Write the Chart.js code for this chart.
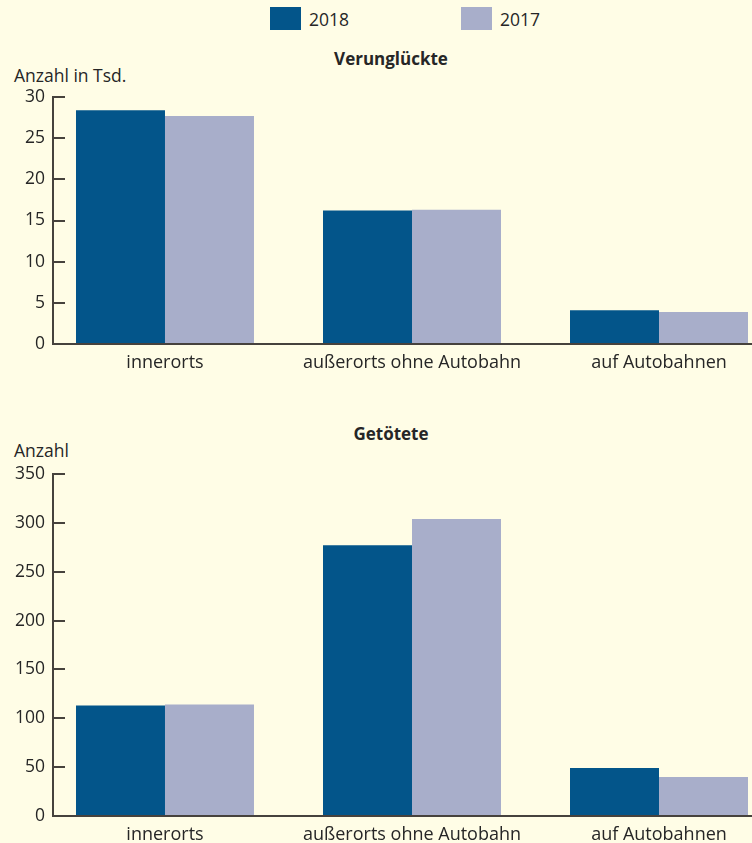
<!DOCTYPE html>
<html lang="de">
<head>
<meta charset="utf-8">
<title>Verunglückte und Getötete nach Ortslage</title>
<script src="https://cdn.jsdelivr.net/npm/chart.js@4.4.1/dist/chart.umd.min.js"></script>
<style>
  html, body { margin: 0; padding: 0; }
  body {
    width: 752px; height: 843px; overflow: hidden; position: relative;
    background: #FFFDE6; font-family: "Open Sans", sans-serif; color: #262626;
  }
  .txt { position: absolute; line-height: 1; white-space: nowrap; }
  .box { position: absolute; width: 31px; height: 23px; }
  .title { font-weight: bold; font-size: 17px; left: 0; width: 782px; text-align: center; }
  .unit { font-size: 17.5px; left: 14px; }
  canvas { position: absolute; left: 0; }
</style>
</head>
<body>
  <!-- legend -->
  <div class="box" id="box2018" style="left:270px; top:7px;"></div>
  <div class="txt" id="lab2018" style="left:309px; top:10.5px; font-size:17.5px;"></div>
  <div class="box" id="box2017" style="left:461px; top:7px;"></div>
  <div class="txt" id="lab2017" style="left:500px; top:10.5px; font-size:17.5px;"></div>

  <div class="txt title" style="top:50px;">Verunglückte</div>
  <div class="txt unit" style="top:67px;">Anzahl in Tsd.</div>
  <canvas id="chartTop" width="752" height="300" style="top:80px;"></canvas>

  <div class="txt title" style="top:425px;">Getötete</div>
  <div class="txt unit" style="top:441.5px;">Anzahl</div>
  <canvas id="chartBottom" width="752" height="395" style="top:457px;"></canvas>

<script>
// Ortslagen (x axis)
const categories = ['innerorts', 'außerorts ohne Autobahn', 'auf Autobahnen'];
const seriesLabels = ['2018', '2017'];
const seriesColors = ['#03558A', '#A8AECA'];

// Verunglückte, Anzahl in Tsd.
const injured2018 = [28.4, 16.2, 4.1];
const injured2017 = [27.7, 16.3, 3.9];
const injuredTicks = [0, 5, 10, 15, 20, 25, 30];

// Getötete, Anzahl
const killed2018 = [113, 277, 49];
const killed2017 = [114, 304, 40];
const killedTicks = [0, 50, 100, 150, 200, 250, 300, 350];

const axisColor = '#46423D';
const textColor = '#262626';

// legend
document.getElementById('box2018').style.background = seriesColors[0];
document.getElementById('box2017').style.background = seriesColors[1];
document.getElementById('lab2018').textContent = seriesLabels[0];
document.getElementById('lab2017').textContent = seriesLabels[1];

function noPadding(scale) {
  scale.paddingTop = 0;
  scale.paddingBottom = 0;
  scale.paddingLeft = 0;
  scale.paddingRight = 0;
}

function makeChart(canvasId, s2018, s2017, yTicks) {
  const toPoints = arr => arr.map((v, i) => ({ x: i, y: v }));
  return new Chart(document.getElementById(canvasId), {
    type: 'bar',
    data: {
      datasets: [
        { label: seriesLabels[0], data: toPoints(s2018), backgroundColor: seriesColors[0] },
        { label: seriesLabels[1], data: toPoints(s2017), backgroundColor: seriesColors[1] }
      ]
    },
    options: {
      responsive: false,
      animation: false,
      events: [],
      barPercentage: 1,
      categoryPercentage: 0.7206,
      layout: { padding: { top: 17, left: 0, right: 0, bottom: 0 } },
      plugins: { legend: { display: false }, title: { display: false }, tooltip: { enabled: false } },
      scales: {
        x: {
          type: 'linear',
          offset: false,
          min: -0.4534,
          max: 2.3765,
          grid: { display: false },
          border: { display: true, color: axisColor, width: 2 },
          afterBuildTicks: scale => { scale.ticks = categories.map((_, i) => ({ value: i })); },
          afterFit: scale => { scale.height = 36; noPadding(scale); },
          ticks: {
            autoSkip: false,
            maxRotation: 0,
            padding: 0,
            color: textColor,
            font: { family: 'Open Sans', size: 18 },
            callback: v => categories[v]
          }
        },
        y: {
          min: yTicks[0],
          max: yTicks[yTicks.length - 1],
          afterBuildTicks: scale => { scale.ticks = yTicks.map(v => ({ value: v })); },
          afterFit: scale => { scale.width = 53; noPadding(scale); },
          grid: { drawOnChartArea: false, drawTicks: true, tickLength: -12, color: axisColor, lineWidth: 2 },
          border: { display: true, color: axisColor, width: 2 },
          ticks: {
            padding: 20,
            color: textColor,
            font: { family: 'Open Sans', size: 17.5 }
          }
        }
      }
    }
  });
}

makeChart('chartTop', injured2018, injured2017, injuredTicks);
makeChart('chartBottom', killed2018, killed2017, killedTicks);
</script>
</body>
</html>
